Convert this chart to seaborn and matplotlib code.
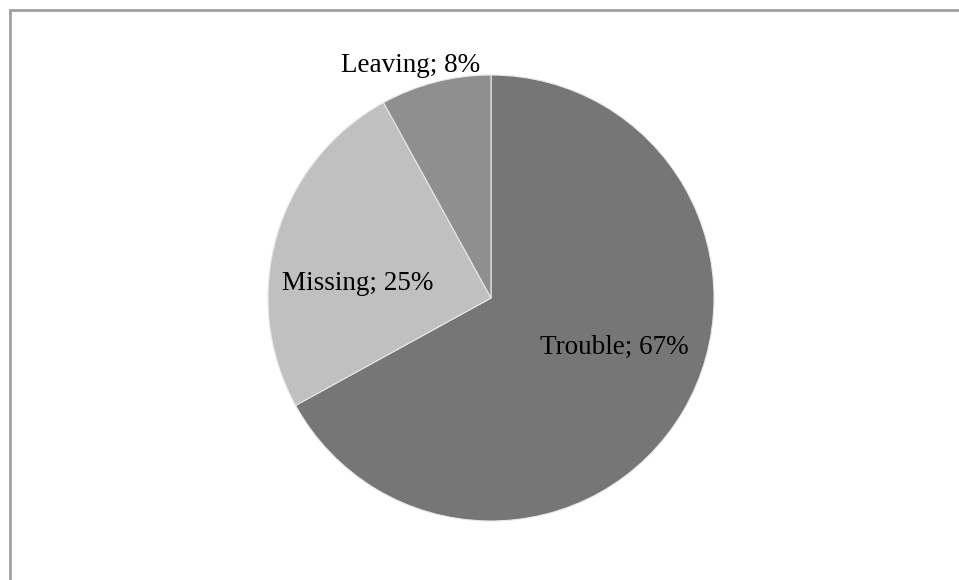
import matplotlib
matplotlib.use("Agg")
import matplotlib.pyplot as plt
import seaborn as sns
from matplotlib.patches import Rectangle

# data
categories = ["Trouble", "Missing", "Leaving"]
shares = [67, 25, 8]
colors = ["#767676", "#c0c0c0", "#8f8f8f"]

# label anchors: centre x, baseline y (pixels, y from top)
label_pos = [(614, 354), (358, 290), (411, 72)]

sns.set_theme(style="white")
plt.rcParams["font.family"] = ["Liberation Serif", "DejaVu Serif"]

W, H = 959, 580
fig = plt.figure(figsize=(W / 100, H / 100), dpi=100)
ax = fig.add_axes([0, 0, 1, 1])

ax.pie(shares, colors=colors, startangle=90, counterclock=False,
       radius=223, center=(491, H - 298), frame=True,
       wedgeprops=dict(edgecolor="#e8e8e8", linewidth=0.8))
ax.set_xlim(0, W)
ax.set_ylim(0, H)
ax.set_aspect("auto")
ax.axis("off")

for name, val, (x, y) in zip(categories, shares, label_pos):
    ax.text(x, H - y, f"{name}; {val}%", ha="center", va="baseline",
            fontsize=19.5, color="black")

# outer chart frame (runs off the right and bottom edges)
fig.patches.append(Rectangle((10 / W, -0.1), 1.1, (H - 10) / H + 0.1,
                             transform=fig.transFigure, fill=False,
                             edgecolor="#a0a0a0", linewidth=2))

fig.savefig("out.png", dpi=100)
